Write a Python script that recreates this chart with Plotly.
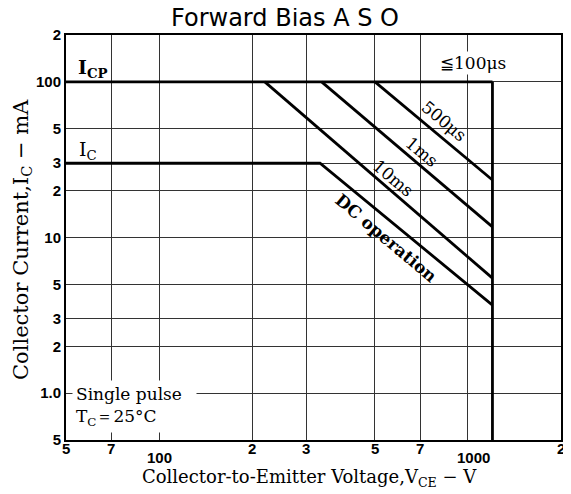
import numpy as np
import plotly.graph_objects as go

# ---- data (V in volts, I in mA) ----
icp_v = [50, 1200]
icp_i = [100, 100]
ic_dc_v = [50, 332, 1200]
ic_dc_i = [30, 30, 3.68]
t10ms_v = [220, 1200]
t10ms_i = [100, 5.48]
t1ms_v = [336, 1200]
t1ms_i = [100, 11.7]
t500us_v = [500, 1200]
t500us_i = [100, 23.4]
vlim_v = [1200, 1200]
vlim_i = [100, 0.5]

x_tickvals = [50, 70, 100, 200, 300, 500, 700, 1000, 2000]
x_ticktext = ["5", "7", "100", "2", "3", "5", "7", "1000", "2"]
x_low = ["100", "1000"]          # labels printed one step lower
y_tickvals = [0.5, 1, 2, 3, 5, 10, 20, 30, 50, 100, 200]
y_ticktext = ["5", "1.0", "2", "3", "5", "10", "2", "3", "5", "100", "2"]

# page is shown with the browser's 8px body margin, so work in page pixels
OFF = 8
W, H = 571 - OFF, 494 - OFF
L, T = 66 - OFF, 35 - OFF
R = W - (561 - OFF)
B = H - (440 - OFF)
PW, PH = W - L - R, H - T - B

def P(px, py):
    return (px - OFF - L) / PW, (H - B - (py - OFF)) / PH

SERIF = "DejaVu Serif, Liberation Serif, serif"
SANS = "Liberation Sans, Arial, sans-serif"

fig = go.Figure()
line = dict(color="black", width=2.8)
for xs, ys in [(icp_v, icp_i), (ic_dc_v, ic_dc_i), (t10ms_v, t10ms_i),
               (t1ms_v, t1ms_i), (t500us_v, t500us_i), (vlim_v, vlim_i)]:
    fig.add_trace(go.Scatter(x=xs, y=ys, mode="lines", line=line,
                             showlegend=False, hoverinfo="skip"))

ann = []
def txt(px, py, text, size=17, angle=0, xanchor="center", bold=False,
        bg=None, family=SERIF, align="center", pad=1):
    x, y = P(px, py)
    d = dict(x=x, y=y, xref="paper", yref="paper", text=text, showarrow=False,
             textangle=angle, xanchor=xanchor, yanchor="middle", align=align,
             font=dict(family=family, size=size, color="black",
                       weight="bold" if bold else "normal"))
    if bg:
        d.update(bgcolor=bg, borderpad=pad)
    ann.append(d)

txt(76, 69, "I<sub>CP</sub>", size=19, xanchor="left", bold=True)
txt(77, 150, "I<sub>C</sub>", size=19, xanchor="left")
txt(473, 63, "≦100μs", size=17, bg="white")
txt(444, 121, "500μs", size=17, angle=40)
txt(422, 152, "1ms", size=17, angle=40)
txt(393, 178, "10ms", size=17, angle=40)
txt(386, 238, "DC operation", size=17, angle=40, bold=True)
txt(72, 406, "Single pulse  <br>T<sub>C</sub>＝25°C", size=17, xanchor="left",
    bg="white", align="left", pad=3)
# axis titles
txt(309, 478, "Collector-to-Emitter Voltage,V<sub>CE</sub> − V", size=18)
txt(22, 240, "Collector Current,I<sub>C</sub> − mA", size=21, angle=-90)
# cut-off caption at the very top of the scan
txt(297, -3, "Collector Current,I<sub>C</sub> − mA", size=18)

# x tick labels, placed on the log axis
for v, t in zip(x_tickvals, x_ticktext):
    low = t in x_low
    ann.append(dict(x=np.log10(v), y=0, xref="x", yref="paper", text=t,
                    showarrow=False, yanchor="middle",
                    yshift=-17 if low else -8, xshift=6 if t == "1000" else 0,
                    font=dict(family=SANS, size=15, color="black", weight="bold")))

fig.update_layout(
    width=W, height=H,
    margin=dict(l=L, r=R, t=T, b=B),
    paper_bgcolor="white", plot_bgcolor="white",
    title=dict(text="Forward Bias A S O", x=(285 - OFF) / W, xref="container",
               y=1 - (18 - OFF) / H, yref="container", xanchor="center", yanchor="middle",
               font=dict(family="DejaVu Sans, sans-serif", size=24, color="black")),
    annotations=ann,
)
fig.update_xaxes(
    type="log", range=[np.log10(50), np.log10(2000)], automargin=False,
    tickmode="array", tickvals=x_tickvals, ticktext=[""] * len(x_tickvals), ticks="",
    showgrid=True, gridcolor="#333333", gridwidth=1,
    showline=True, linecolor="black", linewidth=2, mirror=True,
    zeroline=False,
)
fig.update_yaxes(
    type="log", range=[np.log10(0.5), np.log10(200)], automargin=False,
    tickmode="array", tickvals=y_tickvals, ticktext=y_ticktext, ticks="",
    tickfont=dict(family=SANS, size=15, color="black", weight="bold"),
    showgrid=True, gridcolor="#333333", gridwidth=1,
    showline=True, linecolor="black", linewidth=2, mirror=True,
    zeroline=False,
)
fig.write_html("out.html")
